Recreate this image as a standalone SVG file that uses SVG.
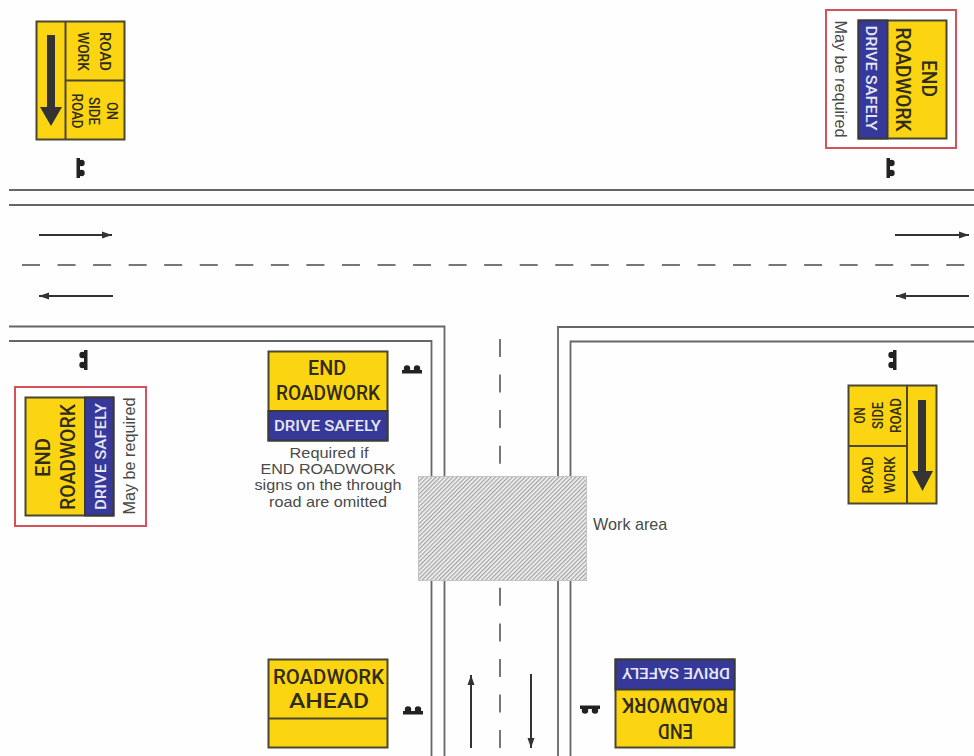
<svg xmlns="http://www.w3.org/2000/svg" width="974" height="756" viewBox="0 0 974 756">
<style>
.road{fill:none;stroke:#666;stroke-width:1.8}
.dash{fill:none;stroke:#777;stroke-width:2;stroke-dasharray:18 17.55}
.arr{fill:none;stroke:#333;stroke-width:2;marker-end:url(#ah)}
.y{fill:#fcd512;stroke:#4a4630;stroke-width:2}
.b{fill:#37399a;stroke:#3a3a3a;stroke-width:2}
.div{fill:none;stroke:#4a4630;stroke-width:2}
.red{fill:#fff;stroke:#d4525c;stroke-width:2}
.s{font-family:"Roboto","Liberation Sans",sans-serif;font-weight:500;fill:#2f2c18;text-anchor:middle}
.w{font-family:"Roboto","Liberation Sans",sans-serif;font-weight:500;fill:#e6e8f4;text-anchor:middle}
.n{font-family:"Liberation Sans",sans-serif;fill:#4a4a4a;font-size:16.2px;text-anchor:middle}
.nn{font-size:15px}
</style>
<defs>
<marker id="ah" markerUnits="userSpaceOnUse" markerWidth="11" markerHeight="8" refX="10" refY="4" orient="auto"><path d="M0 0.500L10 4L0 7.500z" fill="#333"/></marker>
<pattern id="hatch" width="3" height="3" patternUnits="userSpaceOnUse" patternTransform="rotate(-45)"><rect width="3" height="3" fill="#f4f4f4"/><rect width="3" height="1.300" fill="#a4a4a4"/></pattern>
<g id="post"><rect x="-10" y="0" width="20" height="3.500" fill="#222"/><circle cx="-5" cy="-1.500" r="3.200" fill="#222"/><circle cx="5" cy="-1.500" r="3.200" fill="#222"/></g>
</defs>
<rect width="974" height="756" fill="#fefefe"/>
<g id="connectors">
<path class="road" d="M9 190H974M9 205H974M9 326.500H444.500V756M9 341H431.500V756M974 327H558V756M974 341.500H570.500V756"/>
<path class="dash" d="M22 265H974"/>
<path class="dash" d="M500 339V756"/>
<path class="arr" d="M39 235H112"/>
<path class="arr" d="M113 296H39"/>
<path class="arr" d="M895 235H969"/>
<path class="arr" d="M969 296H896"/>
<path class="arr" d="M471 748V675"/>
<path class="arr" d="M531 674V748"/>
</g>
<g id="work-area"><rect x="418.500" y="476.500" width="168" height="104" fill="url(#hatch)" stroke="#c4c4c4" stroke-width="1"/><text x="593" y="530" font-family="Liberation Sans,sans-serif" font-size="16.200" fill="#4a4a4a">Work area</text></g>
<g id="sign-top-left">
<rect class="y" x="36.500" y="21.500" width="88" height="118"/><path class="div" d="M65.500 21V140M65.500 80.500H125"/>
<path d="M47 35H55V107H62L51 126L40 107H47z" fill="#333"/>
<g class="s" font-size="15"><text textLength="39" lengthAdjust="spacingAndGlyphs" transform="translate(100 51.500) rotate(90)">ROAD</text><text textLength="39" lengthAdjust="spacingAndGlyphs" transform="translate(78 51.500) rotate(90)">WORK</text><text font-size="14.500" textLength="18" lengthAdjust="spacingAndGlyphs" transform="translate(107 111) rotate(90)">ON</text><text font-size="14.500" textLength="28" lengthAdjust="spacingAndGlyphs" transform="translate(89 111) rotate(90)">SIDE</text><text font-size="14.500" textLength="35" lengthAdjust="spacingAndGlyphs" transform="translate(72 111) rotate(90)">ROAD</text></g>
</g>
<g id="sign-top-right">
<rect class="red" x="826" y="10" width="130" height="138"/>
<rect class="y" x="858.500" y="20.500" width="88" height="118"/><rect class="b" x="858.500" y="20.500" width="29" height="118"/>
<text class="s" font-size="20" textLength="37" lengthAdjust="spacingAndGlyphs" transform="translate(922 78.500) rotate(90)">END</text>
<text class="s" font-size="19.500" textLength="104" lengthAdjust="spacingAndGlyphs" transform="translate(895.500 79.500) rotate(90)">ROADWORK</text>
<text class="w" font-size="15.500" textLength="105" lengthAdjust="spacingAndGlyphs" transform="translate(866 78) rotate(90)">DRIVE SAFELY</text>
<text class="n" transform="translate(834.500 79) rotate(90)">May be required</text>
</g>
<g id="sign-left">
<rect class="red" x="15" y="387" width="131" height="139"/>
<rect class="y" x="25.500" y="397.500" width="88" height="118"/><rect class="b" x="85" y="397.500" width="28.500" height="118"/>
<text class="s" font-size="20" textLength="39" lengthAdjust="spacingAndGlyphs" transform="translate(50 457.500) rotate(-90)">END</text>
<text class="s" font-size="19.500" textLength="106" lengthAdjust="spacingAndGlyphs" transform="translate(75 457) rotate(-90)">ROADWORK</text>
<text class="w" font-size="15.500" textLength="107" lengthAdjust="spacingAndGlyphs" transform="translate(106 456.500) rotate(-90)">DRIVE SAFELY</text>
<text class="n" transform="translate(135 456) rotate(-90)">May be required</text>
</g>
<g id="sign-center">
<rect class="y" x="268.500" y="351.500" width="119" height="89"/><rect class="b" x="268.500" y="411" width="119" height="29.500"/>
<text class="s" font-size="20" textLength="38" lengthAdjust="spacingAndGlyphs" x="327" y="375">END</text>
<text class="s" font-size="19.500" textLength="104" lengthAdjust="spacingAndGlyphs" x="328" y="400">ROADWORK</text>
<text class="w" font-size="15.500" textLength="107" lengthAdjust="spacingAndGlyphs" x="327.500" y="431">DRIVE SAFELY</text>
<text class="n nn" x="329" y="458" textLength="79" lengthAdjust="spacingAndGlyphs">Required if</text>
<text class="n nn" x="328" y="474" textLength="135" lengthAdjust="spacingAndGlyphs">END ROADWORK</text>
<text class="n nn" x="328" y="490" textLength="147" lengthAdjust="spacingAndGlyphs">signs on the through</text>
<text class="n nn" x="328" y="507" textLength="118" lengthAdjust="spacingAndGlyphs">road are omitted</text>
</g>
<g id="sign-right">
<rect class="y" x="848.500" y="385.500" width="88" height="118"/><path class="div" d="M907 385V504M848 446H907"/>
<path d="M918 400H926V471H933L922.500 491L912 471H918z" fill="#333"/>
<g class="s" font-size="14.500"><text textLength="16" lengthAdjust="spacingAndGlyphs" transform="translate(865 415.500) rotate(-90)">ON</text><text textLength="27" lengthAdjust="spacingAndGlyphs" transform="translate(883 415.500) rotate(-90)">SIDE</text><text textLength="35" lengthAdjust="spacingAndGlyphs" transform="translate(901 415.500) rotate(-90)">ROAD</text><text font-size="15" textLength="37" lengthAdjust="spacingAndGlyphs" transform="translate(873 475) rotate(-90)">ROAD</text><text font-size="15" textLength="37" lengthAdjust="spacingAndGlyphs" transform="translate(895 475) rotate(-90)">WORK</text></g>
</g>
<g id="sign-ahead">
<rect class="y" x="268.500" y="659.500" width="119" height="88"/><path class="div" d="M268 718.500H388"/>
<text class="s" font-size="19.500" textLength="111" lengthAdjust="spacingAndGlyphs" x="328.500" y="684">ROADWORK</text>
<text class="s" font-size="20.500" textLength="80" lengthAdjust="spacingAndGlyphs" x="329" y="708">AHEAD</text>
</g>
<g id="sign-bottom-right">
<rect class="y" x="615.500" y="659.500" width="119" height="88"/><rect class="b" x="615.500" y="659.500" width="119" height="30"/>
<text class="w" font-size="15.500" textLength="108" lengthAdjust="spacingAndGlyphs" transform="translate(676 668) rotate(180)">DRIVE SAFELY</text>
<text class="s" font-size="19.500" textLength="106" lengthAdjust="spacingAndGlyphs" transform="translate(675 698) rotate(180)">ROADWORK</text>
<text class="s" font-size="20" textLength="35" lengthAdjust="spacingAndGlyphs" transform="translate(675.500 724) rotate(180)">END</text>
</g>
<g id="posts">
<use href="#post" transform="translate(80 168) rotate(90)"/>
<use href="#post" transform="translate(890 168) rotate(90)"/>
<use href="#post" transform="translate(84 360) rotate(-90)"/>
<use href="#post" transform="translate(893 360) rotate(-90)"/>
<use href="#post" transform="translate(412 370)"/>
<use href="#post" transform="translate(413 711)"/>
<use href="#post" transform="translate(590 709) rotate(180)"/>
</g>
</svg>
